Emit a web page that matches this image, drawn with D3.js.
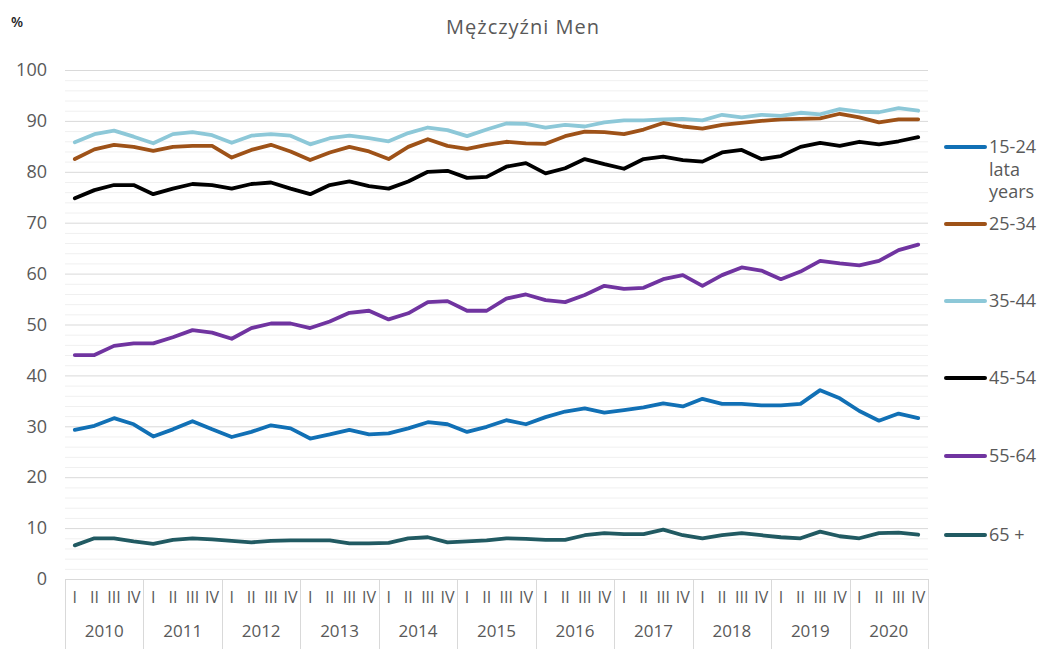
<!DOCTYPE html>
<html>
<head>
<meta charset="utf-8">
<script src="https://cdn.jsdelivr.net/npm/d3@7"></script>
<style>
  body { margin: 0; background: #fff; }
  text { font-family: "Open Sans", "Noto Sans", sans-serif; }
</style>
</head>
<body>
<script>
(()=>{
    const width = 1043;
    const height = 649;
    const marginTop = 70;
    const marginRight = 115;
    const marginBottom = 70;
    const marginLeft = 65;

    const years = [2010, 2011, 2012, 2013, 2014, 2015, 2016, 2017, 2018, 2019, 2020];
    const quarterLabels = ["I", "II", "III", "IV"];
    const yTicks = [0, 10, 20, 30, 40, 50, 60, 70, 80, 90, 100];

    // quarterly values, 2010 I .. 2020 IV
    const v15_24 = [29.3, 30.1, 31.6, 30.4, 28.0, 29.4, 31.0, 29.4, 27.9, 28.9, 30.2, 29.6, 27.6, 28.4, 29.3, 28.4, 28.6, 29.6, 30.8, 30.4, 28.9, 29.9, 31.2, 30.4, 31.8, 32.9, 33.5, 32.7, 33.2, 33.7, 34.5, 33.9, 35.4, 34.4, 34.4, 34.1, 34.1, 34.4, 37.1, 35.5, 33.0, 31.1, 32.5, 31.6];
    const v25_34 = [82.5, 84.4, 85.3, 84.9, 84.1, 84.9, 85.1, 85.1, 82.8, 84.3, 85.3, 84.0, 82.3, 83.8, 84.9, 84.0, 82.5, 84.9, 86.4, 85.1, 84.5, 85.3, 85.9, 85.6, 85.5, 87.0, 87.9, 87.8, 87.4, 88.3, 89.6, 88.9, 88.5, 89.2, 89.6, 90.0, 90.3, 90.4, 90.5, 91.4, 90.7, 89.7, 90.3, 90.3];
    const v35_44 = [85.8, 87.4, 88.1, 86.9, 85.6, 87.4, 87.8, 87.2, 85.7, 87.1, 87.4, 87.1, 85.4, 86.6, 87.1, 86.6, 86.0, 87.6, 88.7, 88.2, 87.0, 88.3, 89.5, 89.4, 88.7, 89.2, 88.9, 89.7, 90.1, 90.1, 90.3, 90.4, 90.1, 91.2, 90.7, 91.2, 91.0, 91.6, 91.3, 92.3, 91.8, 91.7, 92.5, 92.0];
    const v45_54 = [74.8, 76.4, 77.4, 77.4, 75.6, 76.7, 77.6, 77.4, 76.7, 77.6, 77.9, 76.7, 75.6, 77.4, 78.1, 77.2, 76.7, 78.1, 80.0, 80.2, 78.8, 79.0, 81.0, 81.7, 79.7, 80.7, 82.5, 81.5, 80.6, 82.5, 83.0, 82.3, 82.0, 83.8, 84.3, 82.5, 83.1, 84.9, 85.7, 85.1, 85.9, 85.4, 86.0, 86.8];
    const v55_64 = [44.0, 44.0, 45.8, 46.3, 46.3, 47.5, 48.9, 48.4, 47.2, 49.3, 50.2, 50.2, 49.3, 50.6, 52.3, 52.7, 51.0, 52.2, 54.4, 54.6, 52.7, 52.7, 55.1, 55.9, 54.8, 54.4, 55.8, 57.6, 57.0, 57.2, 58.9, 59.7, 57.6, 59.7, 61.2, 60.6, 58.9, 60.4, 62.5, 62.0, 61.6, 62.5, 64.6, 65.7];
    const v65plus = [6.6, 8.0, 8.0, 7.4, 6.9, 7.7, 8.0, 7.8, 7.5, 7.2, 7.5, 7.6, 7.6, 7.6, 7.0, 7.0, 7.1, 8.0, 8.2, 7.2, 7.4, 7.6, 8.0, 7.9, 7.7, 7.7, 8.6, 9.0, 8.8, 8.8, 9.7, 8.6, 8.0, 8.6, 9.0, 8.6, 8.2, 8.0, 9.3, 8.4, 8.0, 9.0, 9.1, 8.7];

    const seriesNames = ["15-24", "25-34", "35-44", "45-54", "55-64", "65 +"];
    const seriesColors = ["#1170b5", "#9e5218", "#8dc8d8", "#000000", "#7034a0", "#215a62"];
    const seriesValues = [v15_24, v25_34, v35_44, v45_54, v55_64, v65plus];
    const legendY = [147, 224, 301, 378, 456, 535];

    const categories = years.flatMap(y => quarterLabels.map(q => `${y}|${q}`));

    const x = d3.scaleBand()
    .domain(categories)
    .range([marginLeft, width - marginRight]);

    const xYear = d3.scaleBand()
    .domain(years)
    .range([marginLeft, width - marginRight]);

    const y = d3.scaleLinear()
    .domain([0, 100])
    .range([height - marginBottom, marginTop]);

    const svg = d3.create("svg")
    .attr("width", width)
    .attr("height", height)
    .attr("viewBox", [0, 0, width, height]);

    // grid: minor every 2, major every 10
    svg.append("g")
    .selectAll("line")
    .data(d3.range(2, 101, 2))
    .join("line")
    .attr("x1", marginLeft)
    .attr("x2", width - marginRight)
    .attr("y1", d => y(d) + 0.5)
    .attr("y2", d => y(d) + 0.5)
    .attr("stroke", d => d % 10 === 0 ? "#d9d9d9" : "#f0f0f0")
    .attr("stroke-width", 1);

    // x axis line and year separators
    svg.append("line")
    .attr("x1", marginLeft)
    .attr("x2", width - marginRight)
    .attr("y1", y(0) + 0.5)
    .attr("y2", y(0) + 0.5)
    .attr("stroke", "#d9d9d9");

    svg.append("g")
    .selectAll("line")
    .data(years.map(d => xYear(d)).concat([width - marginRight]))
    .join("line")
    .attr("x1", d => Math.round(d) + 0.5)
    .attr("x2", d => Math.round(d) + 0.5)
    .attr("y1", y(0))
    .attr("y2", height)
    .attr("stroke", "#d9d9d9");

    // y axis labels
    svg.append("g")
    .attr("transform", `translate(${marginLeft - 18},0)`)
    .call(d3.axisLeft(y).tickValues(yTicks).tickSize(0).tickPadding(0))
    .call(g => g.select(".domain").remove())
    .call(g => g.selectAll("text")
        .attr("fill", "#595959")
        .attr("font-size", 18)
        .attr("font-family", "'Open Sans', sans-serif"));

    // quarter labels
    svg.append("g")
    .attr("transform", `translate(0,${height - marginBottom + 13})`)
    .call(d3.axisBottom(x).tickSize(0).tickPadding(0).tickFormat(d => d.split("|")[1]))
    .call(g => g.select(".domain").remove())
    .call(g => g.selectAll("text")
        .attr("fill", "#595959")
        .attr("font-size", 16)
        .attr("font-family", "'Open Sans', sans-serif"));

    // year labels
    svg.append("g")
    .attr("transform", `translate(0,${height - marginBottom + 46})`)
    .call(d3.axisBottom(xYear).tickSize(0).tickPadding(0))
    .call(g => g.select(".domain").remove())
    .call(g => g.selectAll("text")
        .attr("fill", "#595959")
        .attr("font-size", 17)
        .attr("font-family", "'Open Sans', sans-serif"));

    // lines
    const line = d3.line()
    .x((d, i) => x(categories[i]) + x.bandwidth() / 2)
    .y(d => y(d));

    svg.append("g")
    .attr("fill", "none")
    .attr("stroke-width", 3.8)
    .attr("stroke-linejoin", "round")
    .attr("stroke-linecap", "round")
    .selectAll("path")
    .data(seriesValues)
    .join("path")
    .attr("stroke", (d, i) => seriesColors[i])
    .attr("d", line);

    // legend
    const legend = svg.append("g")
    .selectAll("g")
    .data(seriesNames)
    .join("g")
    .attr("transform", (d, i) => `translate(946,${legendY[i]})`);

    legend.append("line")
    .attr("x1", 0)
    .attr("x2", 39)
    .attr("stroke", (d, i) => seriesColors[i])
    .attr("stroke-width", 4)
    .attr("stroke-linecap", "round");

    legend.append("text")
    .attr("x", 43)
    .attr("dy", "0.35em")
    .attr("fill", "#595959")
    .attr("font-size", 18)
    .text(d => d);

    svg.append("text")
    .attr("x", 989)
    .attr("y", legendY[0] + 23)
    .attr("dy", "0.35em")
    .attr("fill", "#595959")
    .attr("font-size", 18)
    .text("lata");

    svg.append("text")
    .attr("x", 989)
    .attr("y", legendY[0] + 45)
    .attr("dy", "0.35em")
    .attr("fill", "#595959")
    .attr("font-size", 18)
    .text("years");

    // title and unit
    svg.append("text")
    .attr("x", 523)
    .attr("y", 27)
    .attr("dy", "0.35em")
    .attr("text-anchor", "middle")
    .attr("fill", "#595959")
    .attr("font-size", 20)
    .attr("letter-spacing", 1)
    .text("Mężczyźni Men");

    svg.append("text")
    .attr("x", 11)
    .attr("y", 22)
    .attr("dy", "0.35em")
    .attr("fill", "#222")
    .attr("font-size", 14)
    .attr("font-weight", 600)
    .text("%");

    d3.select("body").append(() => svg.node());
})()
</script>
</body>
</html>
